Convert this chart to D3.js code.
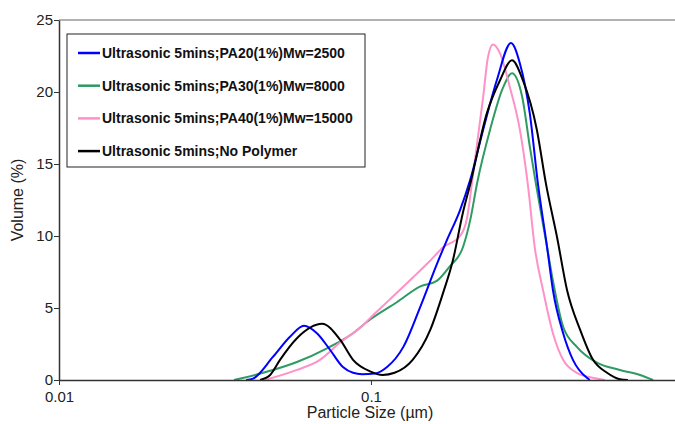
<!DOCTYPE html>
<html>
<head>
<meta charset="utf-8">
<script src="https://cdn.jsdelivr.net/npm/d3@7"></script>
<style>
  body { margin: 0; background: #fff; }
  svg { display: block; font-family: "Liberation Sans", Arial, sans-serif; }
</style>
</head>
<body>
<script>
// particle size (µm) and volume (%)
let blueSize = [0.0398, 0.0419, 0.0485, 0.055, 0.061, 0.0671, 0.0739, 0.0813, 0.0876, 0.0936, 0.103, 0.1126, 0.127, 0.144, 0.163, 0.175, 0.193, 0.208, 0.229, 0.253, 0.281, 0.300, 0.323, 0.343, 0.367, 0.383, 0.413, 0.444, 0.492, 0.503];
let blueVol = [0, 0.1, 1.6, 3.0, 3.77, 3.25, 2.1, 0.9, 0.5, 0.4, 0.45, 0.9, 2.3, 5.1, 8.1, 9.7, 11.8, 13.9, 17.4, 20.8, 23.4, 22.0, 18.5, 13.6, 9.2, 6.25, 3.25, 1.4, 0.15, 0];

let greenSize = [0.0364, 0.0451, 0.0579, 0.0723, 0.0876, 0.0993, 0.121, 0.144, 0.163, 0.179, 0.197, 0.208, 0.219, 0.241, 0.265, 0.283, 0.305, 0.323, 0.338, 0.367, 0.383, 0.413, 0.457, 0.530, 0.628, 0.728, 0.802];
let greenVol = [0, 0.5, 1.25, 2.2, 3.25, 4.2, 5.4, 6.5, 6.9, 7.9, 9.2, 11.1, 13.7, 17.4, 20.3, 21.3, 19.7, 16.2, 13.6, 9.2, 6.9, 3.7, 2.3, 1.2, 0.7, 0.35, 0];

let pinkSize = [0.0457, 0.0579, 0.0686, 0.0796, 0.0943, 0.0993, 0.115, 0.136, 0.155, 0.170, 0.193, 0.203, 0.212, 0.229, 0.237, 0.246, 0.259, 0.279, 0.300, 0.319, 0.335, 0.356, 0.383, 0.413, 0.457, 0.530, 0.562];
let pinkVol = [0, 0.7, 1.4, 2.6, 3.8, 4.3, 5.6, 7.1, 8.3, 9.2, 10.0, 11.2, 14.1, 19.7, 22.4, 23.3, 22.7, 20.3, 17.4, 13.4, 9.2, 6.25, 3.25, 1.4, 0.5, 0.1, 0];

let blackSize = [0.0441, 0.0475, 0.0511, 0.0579, 0.0697, 0.0796, 0.0876, 0.0993, 0.109, 0.119, 0.136, 0.155, 0.170, 0.183, 0.197, 0.208, 0.235, 0.259, 0.283, 0.307, 0.340, 0.364, 0.395, 0.425, 0.468, 0.515, 0.571, 0.628, 0.666];
let blackVol = [0, 0.35, 1.4, 2.9, 3.9, 2.8, 1.4, 0.6, 0.35, 0.5, 1.4, 3.5, 6.0, 8.3, 11.6, 13.6, 18.5, 20.8, 22.2, 20.8, 17.4, 13.6, 9.9, 6.25, 3.5, 1.4, 0.5, 0.05, 0];

let seriesNames = ["Ultrasonic 5mins;PA20(1%)Mw=2500", "Ultrasonic 5mins;PA30(1%)Mw=8000",
                   "Ultrasonic 5mins;PA40(1%)Mw=15000", "Ultrasonic 5mins;No Polymer"];
let seriesColors = ["#0000ff", "#2f9a62", "#ff91c8", "#000000"];
let yTicks = [0, 5, 10, 15, 20, 25];
let xTicks = [0.01, 0.1];

let series = [
  { name: seriesNames[0], color: seriesColors[0], pts: d3.zip(blueSize, blueVol) },
  { name: seriesNames[1], color: seriesColors[1], pts: d3.zip(greenSize, greenVol) },
  { name: seriesNames[2], color: seriesColors[2], pts: d3.zip(pinkSize, pinkVol) },
  { name: seriesNames[3], color: seriesColors[3], pts: d3.zip(blackSize, blackVol) }
];

let w = 675, h = 424;
let padLeft = 59, padRight = 675, padTop = 20, padBottom = 380;

const svg = d3.select("body").append("svg")
    .attr("width", w)
    .attr("height", h);

const x = d3.scaleLog().domain([0.01, 0.943]).range([padLeft, padRight]);
const y = d3.scaleLinear().domain([0, 25]).range([padBottom, padTop]);

// top frame line
svg.append("line")
    .attr("x1", padLeft).attr("x2", padRight)
    .attr("y1", padTop).attr("y2", padTop)
    .attr("stroke", "#999").attr("stroke-width", 1.5);

const line = d3.line()
    .x(d => x(d[0]))
    .y(d => y(d[1]))
    .curve(d3.curveMonotoneX);

// draw in order so black ends up on top like the original
svg.append("g").selectAll("path")
    .data([series[1], series[2], series[0], series[3]])
    .enter()
    .append("path")
    .attr("d", d => line(d.pts))
    .attr("fill", "none")
    .attr("stroke", d => d.color)
    .attr("stroke-width", 2);

const xAxis = d3.axisBottom(x).tickValues(xTicks).tickFormat(d3.format("")).tickSize(5).tickSizeOuter(0);
const yAxis = d3.axisLeft(y).tickValues(yTicks).tickSize(5).tickSizeOuter(0);

svg.append("g")
    .attr("transform", "translate(0," + padBottom + ")")
    .call(xAxis)
    .call(g => g.select(".domain").attr("stroke", "#333").attr("stroke-width", 1.5))
    .call(g => g.selectAll(".tick line").attr("stroke", "#333"))
    .call(g => g.selectAll("text").attr("fill", "#222").style("font-size", "15px").attr("dy", "0.9em"));

svg.append("g")
    .attr("transform", "translate(" + padLeft + ",0)")
    .call(yAxis)
    .call(g => g.select(".domain").attr("stroke", "#333").attr("stroke-width", 1.5))
    .call(g => g.selectAll(".tick line").attr("stroke", "#333"))
    .call(g => g.selectAll("text").attr("fill", "#222").style("font-size", "15px").attr("x", -6));

svg.append("text")
    .attr("x", 370).attr("y", 418)
    .attr("text-anchor", "middle")
    .style("font-size", "16px").attr("fill", "#222")
    .text("Particle Size (µm)");

svg.append("text")
    .attr("transform", "translate(23,200) rotate(-90)")
    .attr("text-anchor", "middle")
    .style("font-size", "16px").attr("fill", "#222")
    .text("Volume (%)");

// legend
const legend = svg.append("g").attr("transform", "translate(67,34)");
legend.append("rect")
    .attr("width", 298).attr("height", 133)
    .attr("fill", "#fff").attr("stroke", "#222").attr("stroke-width", 1);

const rows = legend.selectAll("g.row")
    .data(series)
    .enter()
    .append("g")
    .attr("class", "row")
    .attr("transform", (d, i) => "translate(0," + (19 + i * 32.7) + ")");

rows.append("line")
    .attr("x1", 11).attr("x2", 33)
    .attr("stroke", d => d.color).attr("stroke-width", 2.5);

rows.append("text")
    .attr("x", 35).attr("dy", "0.35em")
    .style("font-size", "14px").style("font-weight", "bold")
    .attr("fill", "#111")
    .text(d => d.name);
</script>
</body>
</html>
